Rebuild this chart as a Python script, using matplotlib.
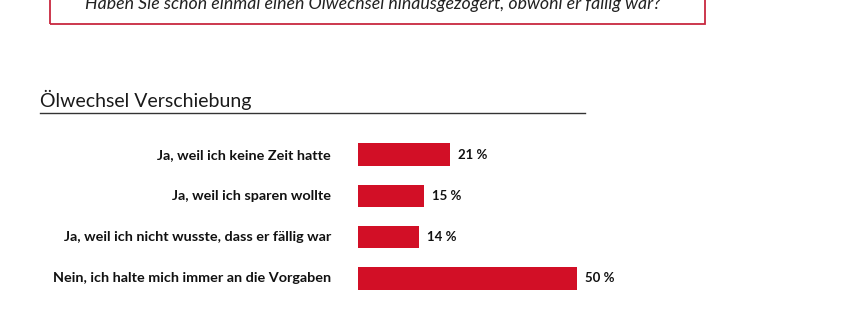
import matplotlib.pyplot as plt
import matplotlib.patches as mpatches

W, H = 845, 321

question = "Haben Sie schon einmal einen Ölwechsel hinausgezögert, obwohl er fällig war?"
title = "Ölwechsel Verschiebung"
categories = [
    "Ja, weil ich keine Zeit hatte",
    "Ja, weil ich sparen wollte",
    "Ja, weil ich nicht wusste, dass er fällig war",
    "Nein, ich halte mich immer an die Vorgaben",
]
values = [21, 15, 14, 50]

red = "#D20F26"
border = "#C8283F"

fig = plt.figure(figsize=(W / 100, H / 100), dpi=100)
fig.patch.set_facecolor("white")


def fx(px):
    return px / W


def fy(py):
    return 1 - py / H


# cropped question box at the top
box = mpatches.Rectangle((fx(50), fy(24)), fx(705) - fx(50), fy(-20) - fy(24),
                         transform=fig.transFigure, fill=False,
                         edgecolor=border, linewidth=1.3)
fig.patches.append(box)
fig.text(fx(85), fy(9), question, fontsize=12.8, style="italic",
         family="Lato", color="#222222", va="baseline")

# section title + rule
fig.text(fx(40), fy(107), title, fontsize=14, family="Lato",
         color="#1a1a1a", va="baseline")
fig.add_artist(plt.Line2D([fx(40), fx(585)], [fy(113), fy(113)],
                          transform=fig.transFigure, color="#333333", lw=1))

# bars
ax = fig.add_axes([fx(358), fy(299), fx(796) - fx(358), fy(134) - fy(299)])
y = list(range(len(categories)))
ax.barh(y, values, height=0.54, color=red)
ax.set_xlim(0, 100)
ax.set_ylim(len(categories) - 0.5, -0.5)
ax.axis("off")

for i, (cat, v) in enumerate(zip(categories, values)):
    ax.text(-27 / 4.38, i, cat, ha="right", va="center", fontsize=10.4,
            fontweight="bold", family="Lato", color="#111111")
    ax.text(v + 1.8, i, f"{v} %", ha="left", va="center", fontsize=9.5,
            fontweight="bold", family="Lato", color="#111111")

fig.savefig("out.png", dpi=100, facecolor="white")
